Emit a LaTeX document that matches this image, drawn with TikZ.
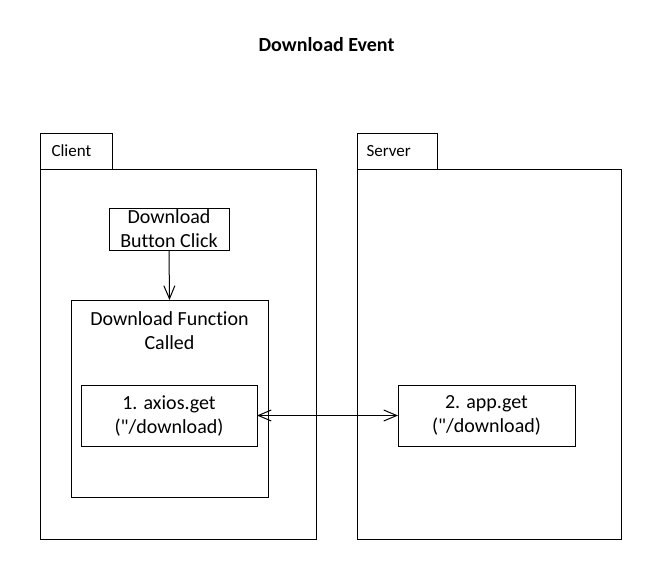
\documentclass[tikz,border=0pt]{standalone}
\usepackage{fontspec}
\setmainfont{Carlito}[Ligatures={TeXOff,NoCommon}]
\usetikzlibrary{arrows.meta}
\begin{document}
\begin{tikzpicture}[x=1pt,y=-1pt,
  box/.style={draw, line width=1pt, rectangle, inner sep=0pt, outer sep=0pt, align=center, font=\fontsize{20}{24}\selectfont},
  tablbl/.style={font=\fontsize{17}{20}\selectfont, anchor=west},
  conn/.style={line width=1pt, -{Straight Barb[length=13pt,width=11pt,line width=1pt]}},
  biconn/.style={line width=1pt, {Straight Barb[length=13pt,width=11pt,line width=1pt]}-{Straight Barb[length=13pt,width=11pt,line width=1pt]}}
]
\useasboundingbox (0,0) rectangle (661,581);
\fill[white] (0,0) rectangle (661,581);
\node[font=\bfseries\fontsize{20}{24}\selectfont] (title) at (326.5,45) {Download Event};
% Client package
\node[box, minimum width=276pt, minimum height=370pt] (clientbody) at (178,354) {};
\node[box, minimum width=72pt, minimum height=36pt] (clienttab) at (76,151) {};
\node[tablbl] (clientlbl) at (48,151) {Client};
% Server package
\node[box, minimum width=264pt, minimum height=370pt] (serverbody) at (489,354) {};
\node[box, minimum width=80pt, minimum height=36pt] (servertab) at (397,151) {};
\node[tablbl] (serverlbl) at (363,151) {Server};
% inner boxes
\node[box, minimum width=120pt, minimum height=42pt] (btn) at (169,229) {Download\\Button Click};
\node[box, minimum width=197pt, minimum height=197pt] (func) at (169.5,398.5) {};
\node[font=\fontsize{20}{24}\selectfont, align=center] (funclbl) at (169.5,331) {Download Function\\Called};
\node[box, minimum width=176pt, minimum height=61pt] (axios) at (169,415.5) {1. axios.get\\("/download)};
\node[box, minimum width=177pt, minimum height=61pt] (app) at (486.5,415.5) {2. app.get\\("/download)};
% connectors
\draw[conn] (btn.south) -- (func.north);
\draw[biconn] (axios.east) -- (app.west);
\end{tikzpicture}
\end{document}
